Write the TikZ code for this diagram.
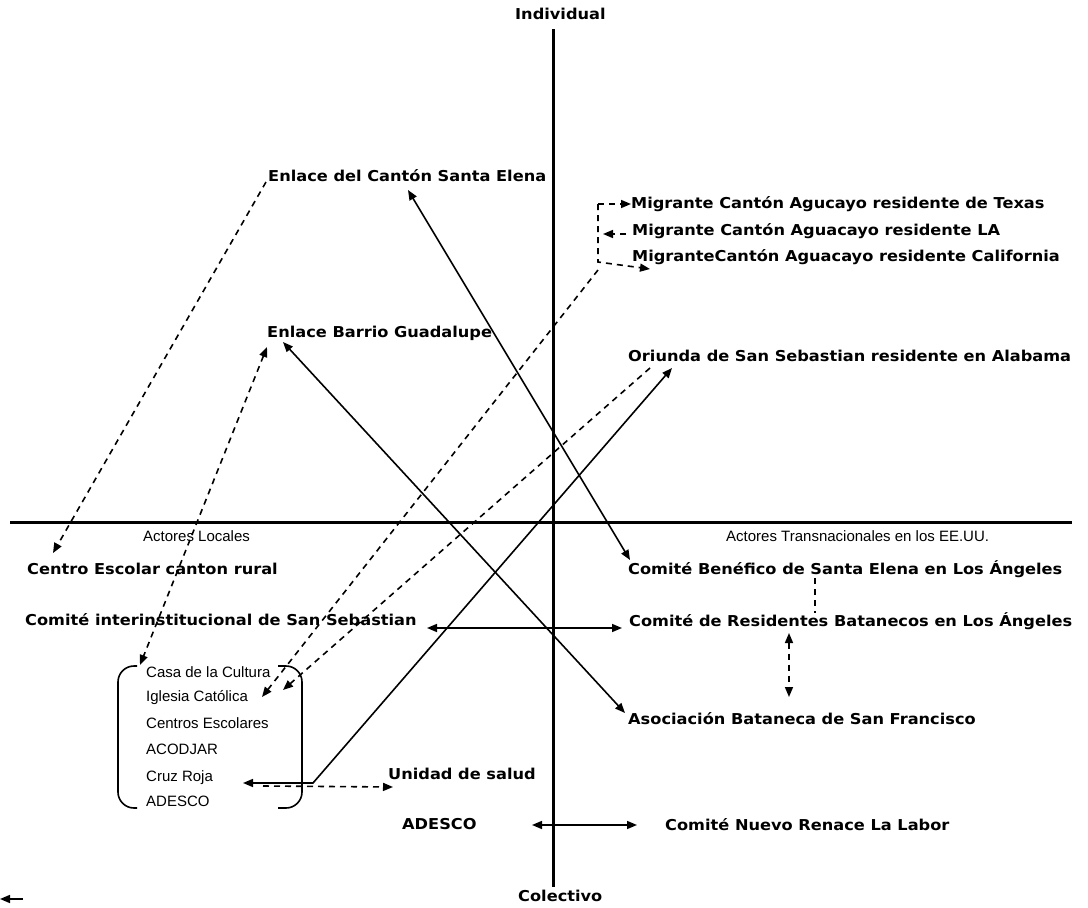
\documentclass[tikz,border=0pt]{standalone}
\usepackage{fontspec}
\setmainfont{Liberation Sans}
\newfontfamily\boldlab{DejaVu Sans}[FakeStretch=1.08]
\usetikzlibrary{arrows.meta}

\begin{document}
\begin{tikzpicture}[x=1pt,y=-1pt,>={Triangle[length=10pt,width=8pt]},
  lab/.style={anchor=west,inner sep=0pt,text height=11pt,text depth=2pt,font=\boldlab\bfseries\fontsize{15}{18}\selectfont},
  txt/.style={anchor=west,inner sep=0pt,text height=11pt,text depth=2pt,font=\fontsize{15}{18}\selectfont},
  ax/.style={line width=3pt},
  con/.style={line width=1.6pt,<->},
  dsh/.style={line width=1.6pt,dash pattern=on 6pt off 5pt},
  brk/.style={line width=1.6pt,rounded corners=16pt}]
\useasboundingbox (0,0) rectangle (1088,908);

\coordinate (c6) at (553,29);
\coordinate (c7) at (553,887);
\coordinate (c8) at (10,522);
\coordinate (c9) at (1072,522);
\draw[ax]  (c6) -- (c7);
\draw[ax]  (c8) -- (c9);

\node[lab] (v1) at (515,15) {Individual};
\node[lab] (v2) at (518,897) {Colectivo};
\node[txt] (v3) at (143,537) {Actores Locales};
\node[txt] (v4) at (726,537) {Actores Transnacionales en los EE.UU.};
\node[lab] (v5) at (268,177) {Enlace del Cantón Santa Elena};
\node[lab] (v6) at (631,204) {Migrante Cantón Agucayo residente de Texas};
\node[lab] (v7) at (632,231) {Migrante Cantón Aguacayo residente LA};
\node[lab] (v8) at (632,257) {MigranteCantón Aguacayo residente California};
\node[lab] (v9) at (267,333) {Enlace Barrio Guadalupe};
\node[lab] (v10) at (628,357) {Oriunda de San Sebastian residente en Alabama};
\node[lab] (v11) at (27,570) {Centro Escolar canton rural};
\node[lab] (v12) at (628,570) {Comité Benéfico de Santa Elena en Los Ángeles};
\node[lab] (v13) at (25,621) {Comité interinstitucional de San Sebastian};
\node[lab] (v14) at (629,622) {Comité de Residentes Batanecos en Los Ángeles};
\node[lab] (v15) at (628,720) {Asociación Bataneca de San Francisco};
\node[lab] (v16) at (388,775) {Unidad de salud};
\node[lab] (v17) at (402,825) {ADESCO};
\node[lab] (v18) at (665,826) {Comité Nuevo Renace La Labor};

\node[txt] (v19) at (146,673) {Casa de la Cultura};
\node[txt] (v20) at (146,697) {Iglesia Católica};
\node[txt] (v21) at (146,724) {Centros Escolares};
\node[txt] (v22) at (146,750) {ACODJAR};
\node[txt] (v23) at (146,777) {Cruz Roja};
\node[txt] (v24) at (146,802) {ADESCO};
\draw[brk]  (137,666) -- (118,666) -- (118,808) -- (137,808);
\draw[brk]  (278,666) -- (302,666) -- (302,808) -- (278,808);

\coordinate (c1) at (313,783);
\coordinate (c2) at (598,204);
\coordinate (c3) at (598,262);
\coordinate (c4) at (23,899);
\coordinate (c5) at (0,899);

\draw[con]  ([xshift=140,yshift=-13]v5.west) -- ([xshift=2,yshift=10]v12.west);
\draw[con]  ([xshift=16,yshift=-9]v9.west) -- ([xshift=-3,yshift=7]v15.west);
\draw[con]  ([xshift=97,yshift=-6]v23.west) -- (c1) -- ([xshift=44,yshift=-11]v10.west);
\draw[con]  ([xshift=402,yshift=-7]v13.west) -- ([xshift=-7,yshift=-6]v14.west);
\draw[con]  ([xshift=130]v17.west) -- ([xshift=-28,yshift=1]v18.west);

\draw[dsh,->]  ([xshift=-2,yshift=-5]v5.west) -- ([xshift=26,yshift=17]v11.west);
\draw[dsh,<->]  ([yshift=-14]v9.west) -- ([xshift=-6,yshift=8]v19.west);
\draw[dsh,->]  (c2) -- (v6.west);
\draw[dsh,->]  ([xshift=-6,yshift=-3]v7.west) -- ([xshift=-29,yshift=-3]v7.west);
\draw[dsh,->]  (c2) -- (c3) -- ([xshift=18,yshift=-12]v8.west);
\draw[dsh,->]  ([yshift=-8]c3) -- ([xshift=116]v20.west);
\draw[dsh,->]  ([xshift=22,yshift=-11]v10.west) -- ([xshift=137,yshift=7]v20.west);
\draw[dsh]  ([xshift=187,yshift=-8]v12.west) -- ([xshift=186,yshift=9]v14.west);
\draw[dsh,<->]  ([xshift=160,yshift=-11]v14.west) -- ([xshift=161,yshift=23]v15.west);
\draw[dsh,->]  ([xshift=117,yshift=-9]v23.west) -- ([xshift=5,yshift=-12]v16.west);

\draw[line width=1.6pt,->]  (c4) -- (c5);
\end{tikzpicture}
\end{document}
